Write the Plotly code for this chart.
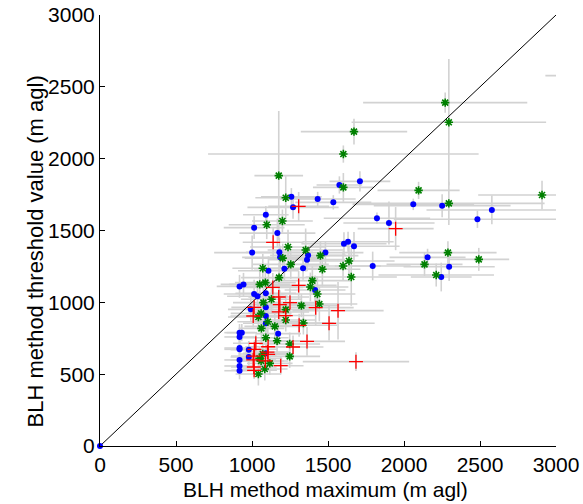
import plotly.graph_objects as go

# Blue series
blue_x = [0, 1575, 1710, 1432, 1259, 1535, 1270, 2061, 2251, 1091, 1822, 2578, 1901, 2483, 1014, 1167,
          1632, 1605, 1671, 1001, 1483, 1180, 1185, 1369, 1362, 2155, 1794, 2297, 1213, 1336, 1108, 2245,
          918, 944, 1415, 1014, 1091, 1036, 992, 1091, 1091, 1091, 918, 933, 918, 1172, 918, 918, 979, 979,
          918, 918, 918, 1091]
blue_y = [0, 1817, 1842, 1719, 1735, 1696, 1661, 1682, 1673, 1610, 1585, 1643, 1552, 1578, 1520, 1482,
          1422, 1408, 1390, 1346, 1346, 1348, 1313, 1327, 1297, 1313, 1253, 1248, 1234, 1237, 1220, 1176,
          1111, 1125, 1086, 1058, 1063, 1042, 951, 965, 905, 854, 789, 789, 759, 782, 682, 673, 670, 619,
          599, 557, 524, 645]
blue_ex = [0, 150, 200, 250, 200, 250, 300, 400, 450, 150, 350, 430, 300, 550, 200, 250,
           300, 280, 300, 250, 250, 220, 250, 250, 250, 250, 250, 300, 200, 250, 200, 200,
           150, 150, 200, 200, 200, 200, 150, 150, 150, 150, 100, 100, 100, 150, 100, 100, 120, 120,
           100, 100, 100, 150]
blue_ey = [0, 60, 70, 50, 60, 50, 80, 40, 80, 60, 40, 100, 150, 60, 80, 100,
           70, 80, 100, 120, 80, 100, 80, 60, 80, 60, 100, 100, 80, 80, 100, 100,
           80, 80, 100, 100, 100, 80, 80, 80, 60, 60, 60, 60, 60, 80, 60, 60, 60, 60,
           60, 60, 60, 60]

# Green series
green_x = [2271, 2295, 1671, 1601, 1176, 1601, 2096, 2908, 1222, 2295, 1200, 1097, 1237, 1353, 2289, 1202,
           1450, 2492, 1638, 1255, 2135, 1599, 1071, 1463, 2212, 1178, 1653, 1397, 1088, 1051, 1384, 1430,
           1128, 1075, 1443, 1325, 1222, 1060, 1042, 1222, 1104, 1338, 1150, 1062, 1091, 1165, 1248, 1248,
           1049, 1060, 1117, 1084, 1042, 1071, 3150]
green_y = [2390, 2253, 2188, 2032, 1882, 1800, 1779, 1747, 1728, 1689, 1566, 1540, 1385, 1364, 1346, 1308,
           1325, 1299, 1288, 1264, 1264, 1253, 1237, 1230, 1190, 1172, 1176, 1151, 1137, 1125, 1107, 1058,
           1021, 998, 988, 977, 949, 923, 898, 877, 865, 856, 833, 819, 754, 733, 710, 624,
           610, 592, 575, 536, 501, 640, 2578]
green_ex = [540, 640, 350, 890, 160, 200, 270, 420, 200, 630, 200, 250, 250, 250, 320, 250,
            250, 200, 300, 250, 250, 250, 200, 250, 380, 250, 300, 250, 200, 200, 250, 250,
            200, 200, 250, 250, 200, 200, 200, 200, 200, 200, 200, 150, 150, 150, 200, 200,
            150, 150, 150, 150, 150, 150, 220]
green_ey = [70, 440, 90, 60, 450, 100, 60, 100, 150, 150, 80, 100, 120, 150, 80, 100,
            100, 80, 100, 100, 80, 100, 100, 120, 80, 100, 200, 100, 100, 100, 100, 120,
            100, 100, 120, 80, 100, 100, 100, 80, 100, 80, 100, 100, 80, 80, 80, 80,
            80, 80, 80, 80, 80, 80, 0]

# Red series
red_x = [1307, 1945, 1139, 1307, 1137, 1176, 1250, 1183, 1014, 1419, 1566, 1176, 1008, 1222, 1507, 1310,
         1362, 1270, 1025, 1106, 1102, 1106, 1012, 1008, 1088, 1012, 1014, 1189, 1684, 1016]
red_y = [1668, 1513, 1418, 1118, 1104, 1037, 998, 984, 965, 963, 942, 933, 905, 908, 854, 840,
         728, 689, 715, 691, 654, 638, 626, 599, 592, 550, 527, 559, 587, 673]
red_ex = [200, 250, 200, 250, 200, 200, 200, 200, 150, 250, 300, 200, 150, 200, 300, 250,
          250, 200, 150, 150, 150, 150, 150, 150, 150, 150, 150, 150, 350, 150]
red_ey = [100, 150, 100, 100, 100, 100, 100, 100, 100, 120, 200, 100, 80, 80, 120, 80,
          100, 80, 60, 60, 60, 60, 60, 60, 60, 60, 60, 60, 65, 60]

line_x = [0, 3000]
line_y = [0, 3000]

x_ticks = [0, 500, 1000, 1500, 2000, 2500, 3000]
y_ticks = [0, 500, 1000, 1500, 2000, 2500, 3000]

x_title = "BLH method maximum (m agl)"
y_title = "BLH method threshold value (m agl)"

ERR = "#d2d2d2"
fig = go.Figure()

# error bars first (behind all markers)
for xs, ys, ex, ey in [(blue_x, blue_y, blue_ex, blue_ey),
                       (green_x, green_y, green_ex, green_ey),
                       (red_x, red_y, red_ex, red_ey)]:
    fig.add_trace(go.Scatter(
        x=xs, y=ys, mode="markers",
        marker=dict(size=2, opacity=0),
        error_x=dict(type="data", array=ex, color=ERR, thickness=1.6, width=0),
        error_y=dict(type="data", array=ey, color=ERR, thickness=1.6, width=0),
        hoverinfo="skip", showlegend=False))

fig.add_trace(go.Scatter(x=line_x, y=line_y, mode="lines",
                         line=dict(color="black", width=1), showlegend=False))

fig.add_trace(go.Scatter(x=blue_x, y=blue_y, mode="markers",
                         marker=dict(symbol="circle", size=6, color="#0000ff"),
                         cliponaxis=False, showlegend=False))
fig.add_trace(go.Scatter(x=green_x, y=green_y, mode="markers",
                         marker=dict(symbol="asterisk-open", size=7, color="#008000",
                                     line=dict(color="#008000", width=1.6)),
                         showlegend=False))
fig.add_trace(go.Scatter(x=red_x, y=red_y, mode="markers",
                         marker=dict(symbol="cross-thin-open", size=10, color="#ff0000",
                                     line=dict(color="#ff0000", width=1.3)),
                         showlegend=False))

FAM = "Liberation Sans, Arial, sans-serif"
tick_font = dict(family=FAM, size=21, color="black")
fig.update_layout(
    width=583, height=504,
    margin=dict(l=100, r=27, t=15, b=58, autoexpand=False),
    paper_bgcolor="white", plot_bgcolor="white",
    font=tick_font,
    annotations=[
        dict(text=x_title, xref="paper", yref="paper", x=0.495, y=-0.102,
             xanchor="center", yanchor="middle", showarrow=False,
             font=dict(family=FAM, size=21, color="black")),
        dict(text=y_title, xref="paper", yref="paper", x=-0.142, y=0.452,
             xanchor="center", yanchor="middle", showarrow=False, textangle=-90,
             font=dict(family=FAM, size=22, color="black")),
    ],
)
fig.update_xaxes(range=[0, 3000], tickvals=x_ticks, showgrid=False, zeroline=False,
                 showline=True, linecolor="black", linewidth=1, automargin=False,
                 ticks="inside", ticklen=5, tickcolor="black", tickfont=tick_font)
fig.update_yaxes(range=[0, 3000], tickvals=y_ticks, showgrid=False, zeroline=False,
                 showline=True, linecolor="black", linewidth=1, automargin=False,
                 ticks="inside", ticklen=5, tickcolor="black", tickfont=tick_font)

fig.write_html("out.html")
